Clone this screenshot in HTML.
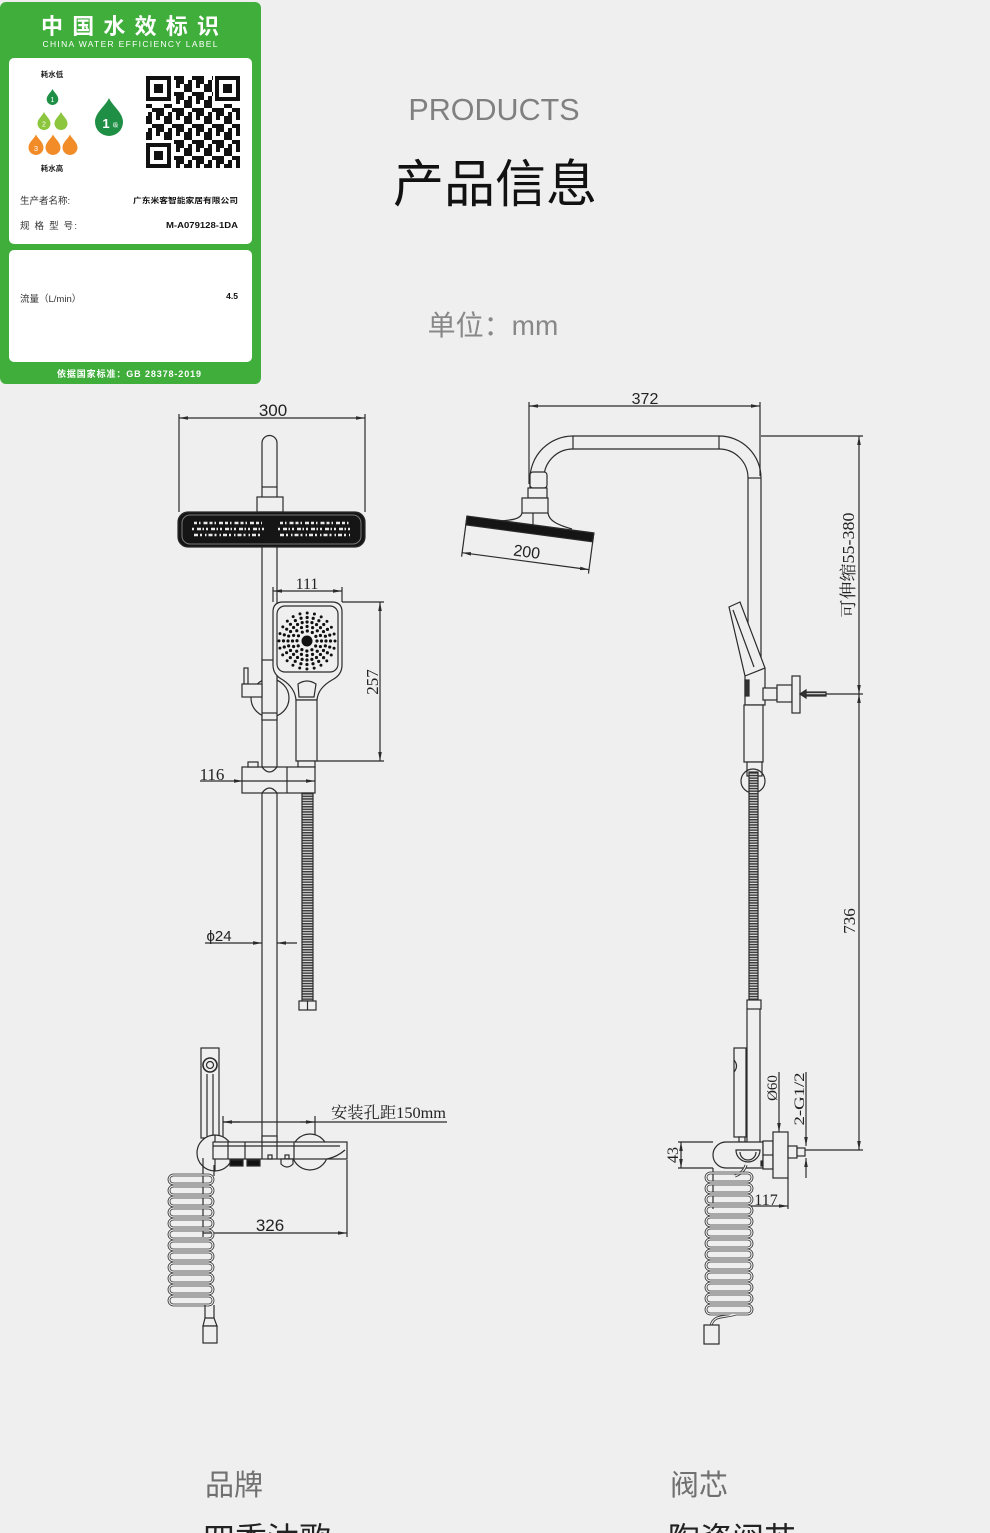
<!DOCTYPE html>
<html><head><meta charset="utf-8"><style>html,body{margin:0;padding:0;background:#efefef;}svg{display:block}</style></head>
<body>
<svg width="990" height="1533" viewBox="0 0 990 1533" xmlns="http://www.w3.org/2000/svg">
<defs>
<marker id="a" viewBox="0 0 10 4" refX="10" refY="2" markerWidth="9" markerHeight="3.6" markerUnits="userSpaceOnUse" orient="auto-start-reverse"><path d="M0,0 L10,2 L0,4 Z" fill="#2b2b2b"/></marker>
<pattern id="hz" width="4" height="2.6" patternUnits="userSpaceOnUse"><rect width="4" height="2.6" fill="#e4e4e4"/><rect width="4" height="1.5" fill="#3a3a3a"/></pattern>
<pattern id="qr" width="20" height="16" patternUnits="userSpaceOnUse"><rect width="20" height="16" fill="#fff"/><rect x="0" y="0" width="4" height="4" fill="#111"/><rect x="8" y="0" width="4" height="8" fill="#111"/><rect x="16" y="4" width="4" height="4" fill="#111"/><rect x="4" y="8" width="8" height="4" fill="#111"/><rect x="0" y="12" width="4" height="4" fill="#111"/><rect x="12" y="12" width="8" height="4" fill="#111"/><rect x="16" y="0" width="4" height="4" fill="#111"/><rect x="4" y="4" width="4" height="4" fill="#111"/></pattern>
</defs>
<rect width="990" height="1533" fill="#efefef"/>

<!-- Green label -->
<rect x="0" y="2" width="261" height="382" rx="6" fill="#3fae3b"/>
<text x="130" y="34" font-size="22" font-weight="bold" fill="#fff" text-anchor="middle" textLength="178" lengthAdjust="spacing" font-family="'Noto Sans CJK SC',sans-serif">中国水效标识</text>
<text x="130" y="47" font-size="8.5" fill="#fff" text-anchor="middle" textLength="175" lengthAdjust="spacing" font-family="'Liberation Sans',sans-serif">CHINA WATER EFFICIENCY LABEL</text>
<rect x="9" y="58" width="243" height="186" rx="5" fill="#fff"/>
<rect x="9" y="250" width="243" height="112" rx="5" fill="#fff"/>
<text x="129" y="377" font-size="9" font-weight="bold" fill="#fff" text-anchor="middle" textLength="144" lengthAdjust="spacing" font-family="'Liberation Sans','Noto Sans CJK SC',sans-serif">依据国家标准：GB 28378-2019</text>

<g font-family="'Liberation Sans','Noto Sans CJK SC',sans-serif">
<text x="52" y="77" font-size="7.5" font-weight="bold" fill="#222" text-anchor="middle">耗水低</text>
<text x="52" y="171" font-size="7.5" font-weight="bold" fill="#222" text-anchor="middle">耗水高</text>
<path d="M52.5,89 C54,92.4 58.3,95.2 58.3,99.2 A5.8,5.8 0 0 1 46.7,99.2 C46.7,95.2 51,92.4 52.5,89Z" fill="#1f8f45"/>
<text x="52.5" y="102" font-size="7" fill="#fff" text-anchor="middle">1</text>
<path d="M44,112 C45.6,115.8 50.5,118.9 50.5,123.5 A6.5,6.5 0 0 1 37.5,123.5 C37.5,118.9 42.4,115.8 44,112Z" fill="#8cc63e"/>
<text x="44" y="126.5" font-size="7" fill="#fff" text-anchor="middle">2</text>
<path d="M61,112 C62.6,115.8 67.5,118.9 67.5,123.5 A6.5,6.5 0 0 1 54.5,123.5 C54.5,118.9 59.4,115.8 61,112Z" fill="#8cc63e"/>
<path d="M36,134.5 C37.9,138.8 43.5,142.3 43.5,147.5 A7.5,7.5 0 0 1 28.5,147.5 C28.5,142.3 34.1,138.8 36,134.5Z" fill="#f28c28"/>
<text x="36" y="151" font-size="7.5" fill="#fff" text-anchor="middle">3</text>
<path d="M53,134.5 C54.9,138.8 60.5,142.3 60.5,147.5 A7.5,7.5 0 0 1 45.5,147.5 C45.5,142.3 51.1,138.8 53,134.5Z" fill="#f28c28"/>
<path d="M70,134.5 C71.9,138.8 77.5,142.3 77.5,147.5 A7.5,7.5 0 0 1 62.5,147.5 C62.5,142.3 68.1,138.8 70,134.5Z" fill="#f28c28"/>
<path d="M109,98 C112.5,106 123,112.5 123,122 A14,14 0 0 1 95,122 C95,112.5 105.5,106 109,98Z" fill="#1f8f45"/>
<text x="106" y="128" font-size="13" font-weight="bold" fill="#fff" text-anchor="middle">1</text>
<text x="115.5" y="127" font-size="5.5" fill="#fff" text-anchor="middle">级</text>
<!-- QR -->
<rect x="146" y="76" width="94" height="92" fill="url(#qr)"/>
<rect x="144" y="74" width="30" height="30" fill="#fff"/><rect x="146" y="76" width="25" height="25" fill="#111"/><rect x="150" y="80" width="17" height="17" fill="#fff"/><rect x="154" y="84" width="9" height="9" fill="#111"/>
<rect x="213" y="74" width="29" height="30" fill="#fff"/><rect x="215" y="76" width="25" height="25" fill="#111"/><rect x="219" y="80" width="17" height="17" fill="#fff"/><rect x="223" y="84" width="9" height="9" fill="#111"/>
<rect x="144" y="140" width="30" height="30" fill="#fff"/><rect x="146" y="143" width="25" height="25" fill="#111"/><rect x="150" y="147" width="17" height="17" fill="#fff"/><rect x="154" y="151" width="9" height="9" fill="#111"/>
<text x="20" y="204" font-size="9.5" fill="#333">生产者名称:</text>
<text x="238" y="203" font-size="7.6" font-weight="bold" fill="#111" text-anchor="end" textLength="105" lengthAdjust="spacingAndGlyphs">广东米客智能家居有限公司</text>
<text x="20" y="229" font-size="9.5" fill="#333" textLength="57" lengthAdjust="spacing">规 格 型 号:</text>
<text x="238" y="228" font-size="8.5" font-weight="bold" fill="#111" text-anchor="end" textLength="72" lengthAdjust="spacingAndGlyphs">M-A079128-1DA</text>
<text x="20" y="302" font-size="9.5" fill="#333">流量（L/min）</text>
<text x="238" y="299" font-size="8.5" font-weight="bold" fill="#111" text-anchor="end">4.5</text>
</g>

<!-- Headings -->
<text x="494" y="120" font-size="30.5" fill="#808080" text-anchor="middle" font-family="'Liberation Sans',sans-serif">PRODUCTS</text>
<text x="495" y="202" font-size="51" fill="#111" text-anchor="middle" font-family="'Liberation Sans','Noto Sans CJK SC',sans-serif">产品信息</text>
<text x="493" y="335" font-size="28" fill="#888" text-anchor="middle" font-family="'Liberation Sans','Noto Sans CJK SC',sans-serif">单位：mm</text>

<!-- Bottom -->
<text x="205" y="1495" font-size="29" fill="#707070" font-family="'Liberation Sans','Noto Sans CJK SC',sans-serif">品牌</text>
<text x="670" y="1495" font-size="29" fill="#707070" font-family="'Liberation Sans','Noto Sans CJK SC',sans-serif">阀芯</text>
<text x="203" y="1550" font-size="32" fill="#222" font-family="'Liberation Sans','Noto Sans CJK SC',sans-serif">四季沐歌</text>
<text x="668" y="1550" font-size="32" fill="#222" font-family="'Liberation Sans','Noto Sans CJK SC',sans-serif">陶瓷阀芯</text>

<!-- LEFT DRAWING -->
<g stroke="#2b2b2b" stroke-width="1.2" fill="none">
<line x1="179" y1="418" x2="365" y2="418" marker-start="url(#a)" marker-end="url(#a)"/>
<line x1="179" y1="414" x2="179" y2="512"/><line x1="365" y1="414" x2="365" y2="512"/>
<path d="M262,497 V443 A7.5,7.5 0 0 1 277,443 V497" fill="#efefef"/>
<line x1="262" y1="487" x2="277" y2="487"/>
<rect x="257" y="497" width="26" height="15" fill="#efefef"/>
<rect x="178" y="512" width="187" height="35" rx="10" fill="#151515"/>
<rect x="182" y="515" width="179" height="29" rx="8" stroke="#777" stroke-width="1"/>
<g stroke="#e8e8e8" stroke-width="2.4">
<line x1="194" y1="523" x2="262" y2="523" stroke-dasharray="3 2 1.5 3 4 2"/>
<line x1="192" y1="529" x2="264" y2="529" stroke-dasharray="2 3 4 1.5 1.5 2"/>
<line x1="194" y1="535" x2="262" y2="535" stroke-dasharray="4 2 2 3 1.5 2"/>
<line x1="280" y1="523" x2="350" y2="523" stroke-dasharray="3 2 1.5 3 4 2"/>
<line x1="278" y1="529" x2="352" y2="529" stroke-dasharray="2 3 4 1.5 1.5 2"/>
<line x1="280" y1="535" x2="350" y2="535" stroke-dasharray="4 2 2 3 1.5 2"/>
</g>
<rect x="262" y="547" width="15" height="595" fill="#efefef"/>
<circle cx="270" cy="698" r="19" fill="#efefef"/>
<rect x="262" y="660" width="15" height="60" fill="#efefef"/>
<line x1="262" y1="713" x2="277" y2="713"/>
<rect x="244" y="668" width="4" height="16" fill="#efefef"/>
<rect x="242" y="684" width="20" height="13" fill="#efefef"/>
<path d="M283,602 H332 Q342,602 342,612 V665 Q342,675 332,680 Q318,688 317,700 H296 Q295,688 283,680 Q273,675 273,665 V612 Q273,602 283,602 Z" fill="#efefef"/>
<rect x="277" y="606" width="61" height="66" rx="8"/>
<path d="M298,684 Q307,678 316,684 L314,697 H299 Z"/>
<rect x="296" y="700" width="21" height="61" fill="#efefef"/>
<rect x="298" y="761" width="17" height="6" fill="#efefef"/>
<circle cx="307" cy="641" r="5.5" fill="#111" stroke="none"/>
<g stroke="#111" stroke-linecap="round">
<circle cx="307" cy="641" r="10" stroke-width="3.2" stroke-dasharray="0 5.24"/>
<circle cx="307" cy="641" r="14.5" stroke-width="3.2" stroke-dasharray="0 5.69"/>
<circle cx="307" cy="641" r="19" stroke-width="3.2" stroke-dasharray="0 4.97"/>
<circle cx="307" cy="641" r="23.5" stroke-width="3.2" stroke-dasharray="0 6.15"/>
<circle cx="307" cy="641" r="28" stroke-width="3" stroke-dasharray="0 7.33"/>
</g>
<line x1="273" y1="591" x2="342" y2="591" marker-start="url(#a)" marker-end="url(#a)"/>
<line x1="273" y1="587" x2="273" y2="602"/><line x1="342" y1="587" x2="342" y2="602"/>
<line x1="342" y1="602" x2="384" y2="602"/><line x1="317" y1="761" x2="384" y2="761"/>
<line x1="380" y1="602" x2="380" y2="761" marker-start="url(#a)" marker-end="url(#a)"/>
<rect x="242" y="767" width="73" height="26" fill="#efefef"/>
<line x1="287" y1="767" x2="287" y2="793"/>
<rect x="248" y="762" width="10" height="5" fill="#efefef"/>
<path d="M262,767 Q269.5,777 277,767"/><path d="M262,793 Q269.5,783 277,793"/>
<line x1="200" y1="781" x2="243" y2="781" marker-end="url(#a)"/>
<line x1="243" y1="781" x2="315" y2="781" marker-end="url(#a)"/>
<rect x="302" y="793" width="11" height="208" fill="url(#hz)"/>
<rect x="299" y="1001" width="17" height="9" fill="#efefef"/>
<line x1="307.5" y1="1001" x2="307.5" y2="1010"/>
<line x1="205" y1="943" x2="262" y2="943" marker-end="url(#a)"/>
<line x1="297" y1="943" x2="277" y2="943" marker-end="url(#a)"/>
<rect x="201" y="1048" width="18" height="90" fill="#efefef"/>
<line x1="207" y1="1074" x2="207" y2="1138"/><line x1="213" y1="1074" x2="213" y2="1138"/>
<circle cx="210" cy="1065" r="7" stroke-width="1.6"/><circle cx="210" cy="1065" r="3.5"/>
<line x1="223" y1="1122" x2="447" y2="1122"/>
<line x1="240" y1="1122" x2="223" y2="1122" marker-end="url(#a)"/>
<line x1="300" y1="1122" x2="315" y2="1122" marker-end="url(#a)"/>
<line x1="223" y1="1116" x2="223" y2="1160"/><line x1="315" y1="1116" x2="315" y2="1160"/>
<circle cx="215" cy="1153" r="18" fill="#efefef"/>
<circle cx="310" cy="1152" r="18" fill="#efefef"/>
<line x1="215" y1="1135" x2="215" y2="1171"/>
<rect x="213" y="1142" width="134" height="17" fill="#efefef"/>
<line x1="213" y1="1146" x2="340" y2="1146"/>
<line x1="228" y1="1142" x2="228" y2="1159"/><line x1="245" y1="1142" x2="245" y2="1159"/>
<line x1="262" y1="1142" x2="262" y2="1159"/><line x1="277" y1="1142" x2="277" y2="1159"/>
<line x1="294" y1="1142" x2="294" y2="1159"/>
<path d="M327,1159 Q337,1157 345,1150"/>
<rect x="262" y="1136" width="15" height="6" fill="#efefef"/>
<rect x="230" y="1160" width="13" height="6" fill="#111"/>
<rect x="247" y="1160" width="13" height="6" fill="#111"/>
<rect x="268" y="1155" width="4" height="4"/><rect x="285" y="1155" width="4" height="4"/>
<path d="M281,1159 H293 V1164 Q287,1170 281,1164 Z" fill="#efefef"/>
<line x1="347" y1="1160" x2="347" y2="1237"/>
<line x1="203" y1="1158" x2="203" y2="1237"/>
<line x1="203" y1="1233" x2="347" y2="1233" marker-end="url(#a)"/>
<line x1="214" y1="1165" x2="214" y2="1176"/>
<g stroke="#333" stroke-width="2.8">
<rect x="169" y="1175" width="44" height="9" rx="4.5"/><rect x="169" y="1186" width="44" height="9" rx="4.5"/>
<rect x="169" y="1197" width="44" height="9" rx="4.5"/><rect x="169" y="1208" width="44" height="9" rx="4.5"/>
<rect x="169" y="1219" width="44" height="9" rx="4.5"/><rect x="169" y="1230" width="44" height="9" rx="4.5"/>
<rect x="169" y="1241" width="44" height="9" rx="4.5"/><rect x="169" y="1252" width="44" height="9" rx="4.5"/>
<rect x="169" y="1263" width="44" height="9" rx="4.5"/><rect x="169" y="1274" width="44" height="9" rx="4.5"/>
<rect x="169" y="1285" width="44" height="9" rx="4.5"/><rect x="169" y="1296" width="44" height="9" rx="4.5"/>
</g>
<g stroke="#efefef" stroke-width="1.2">
<rect x="169" y="1175" width="44" height="9" rx="4.5"/><rect x="169" y="1186" width="44" height="9" rx="4.5"/>
<rect x="169" y="1197" width="44" height="9" rx="4.5"/><rect x="169" y="1208" width="44" height="9" rx="4.5"/>
<rect x="169" y="1219" width="44" height="9" rx="4.5"/><rect x="169" y="1230" width="44" height="9" rx="4.5"/>
<rect x="169" y="1241" width="44" height="9" rx="4.5"/><rect x="169" y="1252" width="44" height="9" rx="4.5"/>
<rect x="169" y="1263" width="44" height="9" rx="4.5"/><rect x="169" y="1274" width="44" height="9" rx="4.5"/>
<rect x="169" y="1285" width="44" height="9" rx="4.5"/><rect x="169" y="1296" width="44" height="9" rx="4.5"/>
</g>
<line x1="205" y1="1305" x2="205" y2="1318"/><line x1="214" y1="1305" x2="214" y2="1318"/>
<path d="M205,1318 L203,1326 H217 L214,1318 Z" fill="#efefef"/>
<rect x="203" y="1326" width="14" height="17" fill="#efefef"/>

<!-- RIGHT DRAWING -->
<line x1="529" y1="406" x2="760" y2="406" marker-start="url(#a)" marker-end="url(#a)"/>
<line x1="529" y1="402" x2="529" y2="484"/><line x1="760" y1="402" x2="760" y2="476"/>
<path d="M530,490 V479 A43,43 0 0 1 573,436 H719 A42,42 0 0 1 761,478 V690"/>
<path d="M544,490 V479 A29,29 0 0 1 573,449 H719 A29,29 0 0 1 748,478 V690"/>
<line x1="573" y1="436" x2="573" y2="449"/><line x1="719" y1="436" x2="719" y2="449"/>
<line x1="748" y1="478" x2="761" y2="478"/>
<line x1="761" y1="436" x2="863" y2="436"/>
<rect x="530" y="472" width="17" height="16" rx="3" fill="#efefef"/>
<rect x="528" y="488" width="19" height="10" fill="#efefef"/>
<rect x="522" y="498" width="26" height="15" fill="#efefef"/>
<path d="M522,513 C521,519 512,520 500,521"/>
<path d="M548,513 C549,521 558,525 572,529"/>
<line x1="533" y1="513" x2="533" y2="526"/>
<g transform="translate(467,516) rotate(7.6)">
<rect x="0" y="0" width="128" height="9" fill="#151515"/>
<line x1="0" y1="0" x2="0" y2="41"/><line x1="128" y1="0" x2="128" y2="41"/>
<line x1="0" y1="37" x2="128" y2="37" marker-start="url(#a)" marker-end="url(#a)"/>
<text x="64" y="33" font-size="16" fill="#222" stroke="none" text-anchor="middle" font-family="'Liberation Sans',sans-serif">200</text>
</g>
<path d="M729,607 L740,602 L765,668 V705 H745 V676 Z" fill="#efefef"/>
<path d="M733,610 L754,667"/>
<line x1="745" y1="676" x2="765" y2="668"/>
<rect x="745" y="680" width="4" height="16" fill="#333"/>
<rect x="744" y="705" width="19" height="57" fill="#efefef"/>
<rect x="747" y="762" width="15" height="14" fill="#efefef"/>
<circle cx="753" cy="781" r="12"/>
<rect x="763" y="688" width="14" height="12" fill="#efefef"/>
<rect x="777" y="685" width="15" height="17" fill="#efefef"/>
<rect x="792" y="676" width="8" height="37" fill="#efefef"/>
<rect x="804" y="692" width="22" height="4" fill="url(#hz)"/>
<path d="M800,694 L806,690 V698 Z" fill="#333"/>
<line x1="826" y1="694" x2="863" y2="694"/>
<rect x="749" y="772" width="9" height="229" fill="url(#hz)"/>
<rect x="747" y="1000" width="14" height="9" fill="#efefef"/>
<line x1="747" y1="1009" x2="747" y2="1142"/><line x1="760" y1="1009" x2="760" y2="1142"/>
<rect x="734" y="1048" width="12" height="89" fill="#efefef"/>
<path d="M734,1060 Q739,1066 734,1072"/>
<rect x="739" y="1137" width="6" height="5" fill="#efefef"/>
<line x1="859" y1="436" x2="859" y2="694" marker-start="url(#a)" marker-end="url(#a)"/>
<line x1="859" y1="694" x2="859" y2="1150" marker-start="url(#a)" marker-end="url(#a)"/>
<path d="M726,1142 H763 V1168 H726 A13,13 0 0 1 726,1142 Z" fill="#efefef"/>
<path d="M736,1150 A12,12 0 0 0 760,1150 Z"/>
<path d="M740,1152 A8,8 0 0 0 756,1152"/>
<rect x="761" y="1161" width="5" height="5" fill="#222"/>
<rect x="763" y="1141" width="10" height="28" fill="#efefef"/>
<line x1="763" y1="1155" x2="773" y2="1155"/>
<rect x="773" y="1132" width="15" height="46" fill="#efefef"/>
<rect x="788" y="1146" width="9" height="12" fill="#efefef"/>
<rect x="797" y="1148" width="8" height="8" fill="#efefef"/>
<line x1="805" y1="1150" x2="863" y2="1150"/>
<line x1="779" y1="1072" x2="779" y2="1132" marker-end="url(#a)"/>
<line x1="806" y1="1072" x2="806" y2="1146" marker-end="url(#a)"/>
<line x1="806" y1="1178" x2="806" y2="1158" marker-end="url(#a)"/>
<line x1="678" y1="1142" x2="713" y2="1142"/><line x1="678" y1="1168" x2="713" y2="1168"/>
<line x1="681" y1="1142" x2="681" y2="1168" marker-start="url(#a)" marker-end="url(#a)"/>
<line x1="713" y1="1168" x2="713" y2="1209"/><line x1="788" y1="1178" x2="788" y2="1209"/>
<line x1="713" y1="1206" x2="788" y2="1206" marker-end="url(#a)"/>
<path d="M746,1165 C744,1172 738,1175 735,1176" stroke="#333" stroke-width="3"/>
<path d="M746,1165 C744,1172 738,1175 735,1176" stroke="#efefef" stroke-width="1.2"/>
<g stroke="#333" stroke-width="2.8">
<rect x="706" y="1173" width="46" height="9" rx="4.5"/><rect x="706" y="1184" width="46" height="9" rx="4.5"/>
<rect x="706" y="1195" width="46" height="9" rx="4.5"/><rect x="706" y="1206" width="46" height="9" rx="4.5"/>
<rect x="706" y="1217" width="46" height="9" rx="4.5"/><rect x="706" y="1228" width="46" height="9" rx="4.5"/>
<rect x="706" y="1239" width="46" height="9" rx="4.5"/><rect x="706" y="1250" width="46" height="9" rx="4.5"/>
<rect x="706" y="1261" width="46" height="9" rx="4.5"/><rect x="706" y="1272" width="46" height="9" rx="4.5"/>
<rect x="706" y="1283" width="46" height="9" rx="4.5"/><rect x="706" y="1294" width="46" height="9" rx="4.5"/>
<rect x="706" y="1305" width="46" height="9" rx="4.5"/>
<path d="M736,1314 C726,1318 713,1314 711,1326"/>
</g>
<g stroke="#efefef" stroke-width="1.2">
<rect x="706" y="1173" width="46" height="9" rx="4.5"/><rect x="706" y="1184" width="46" height="9" rx="4.5"/>
<rect x="706" y="1195" width="46" height="9" rx="4.5"/><rect x="706" y="1206" width="46" height="9" rx="4.5"/>
<rect x="706" y="1217" width="46" height="9" rx="4.5"/><rect x="706" y="1228" width="46" height="9" rx="4.5"/>
<rect x="706" y="1239" width="46" height="9" rx="4.5"/><rect x="706" y="1250" width="46" height="9" rx="4.5"/>
<rect x="706" y="1261" width="46" height="9" rx="4.5"/><rect x="706" y="1272" width="46" height="9" rx="4.5"/>
<rect x="706" y="1283" width="46" height="9" rx="4.5"/><rect x="706" y="1294" width="46" height="9" rx="4.5"/>
<rect x="706" y="1305" width="46" height="9" rx="4.5"/>
<path d="M736,1314 C726,1318 713,1314 711,1326"/>
</g>
<rect x="704" y="1325" width="15" height="19" fill="#efefef"/>
</g>

<!-- drawing labels -->
<g fill="#222">
<text x="273" y="416" font-size="17" text-anchor="middle" font-family="'Liberation Sans',sans-serif">300</text>
<text x="307" y="589" font-size="16" text-anchor="middle" font-family="'Liberation Serif',serif">111</text>
<text transform="translate(378,682) rotate(-90)" font-size="17" text-anchor="middle" font-family="'Liberation Serif',serif">257</text>
<text x="212" y="780" font-size="17" text-anchor="middle" font-family="'Liberation Serif',serif">116</text>
<text x="219" y="941" font-size="15" text-anchor="middle" font-family="'Liberation Sans','DejaVu Sans',sans-serif">ϕ24</text>
<text x="331" y="1118" font-size="16" textLength="115" lengthAdjust="spacingAndGlyphs" font-family="'Liberation Serif','Noto Serif CJK SC',serif">安装孔距150mm</text>
<text x="270" y="1231" font-size="17" text-anchor="middle" font-family="'Liberation Sans',sans-serif">326</text>
<text x="645" y="404" font-size="16" text-anchor="middle" font-family="'Liberation Sans',sans-serif">372</text>
<text transform="translate(854,565) rotate(-90)" font-size="17" text-anchor="middle" textLength="105" lengthAdjust="spacingAndGlyphs" font-family="'Liberation Serif','Noto Serif CJK SC',serif">可伸缩55-380</text>
<text transform="translate(855,921) rotate(-90)" font-size="17" text-anchor="middle" font-family="'Liberation Serif',serif">736</text>
<text transform="translate(777,1088) rotate(-90)" font-size="15" text-anchor="middle" font-family="'Liberation Serif','DejaVu Serif',serif">Ø60</text>
<text transform="translate(804,1099) rotate(-90)" font-size="15" text-anchor="middle" textLength="53" lengthAdjust="spacingAndGlyphs" font-family="'Liberation Serif',serif">2-G1/2</text>
<text transform="translate(678,1155) rotate(-90)" font-size="16" text-anchor="middle" font-family="'Liberation Serif',serif">43</text>
<text x="766" y="1205" font-size="16" text-anchor="middle" font-family="'Liberation Serif',serif">117</text>
</g>
</svg>
</body></html>
